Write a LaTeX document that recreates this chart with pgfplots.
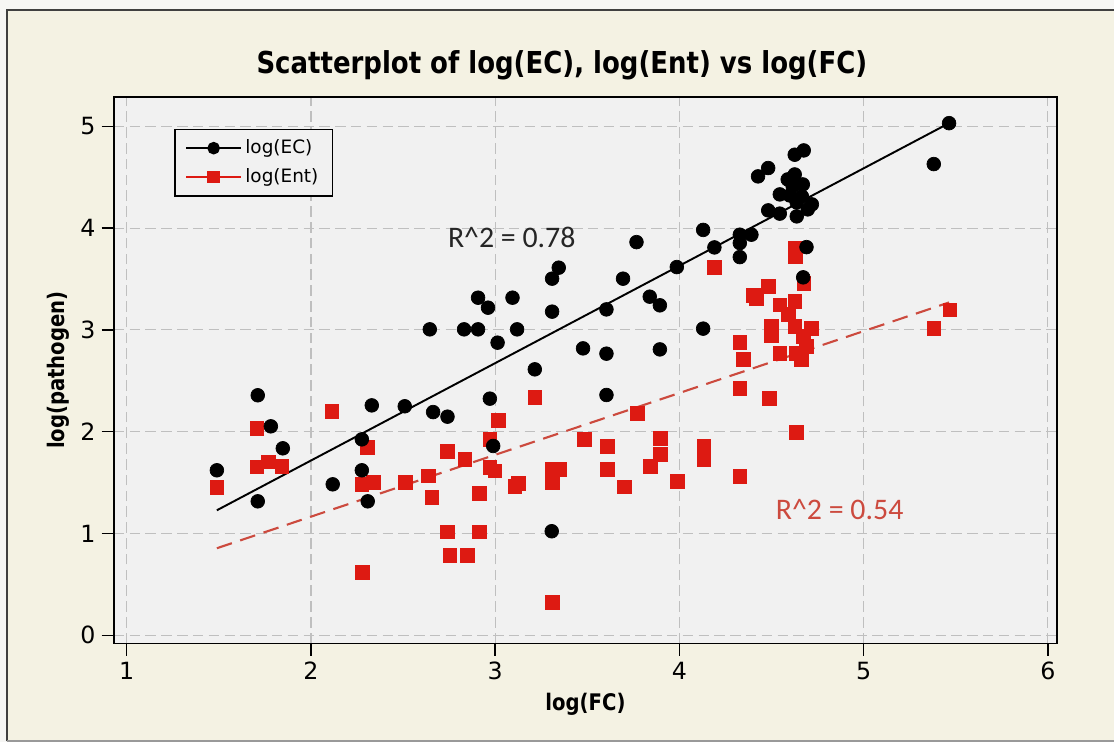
\documentclass[border=0pt]{standalone}
\usepackage{fontspec}
\setmainfont{DejaVu Sans}
\newfontfamily\titlefont[FakeStretch=0.86]{DejaVu Sans}
\newfontfamily\annfont{Carlito}
\usepackage{pgfplots}
\pgfplotsset{compat=1.18}
\definecolor{entred}{HTML}{DD1A12}
\definecolor{fitred}{HTML}{CC4A3E}
\definecolor{paper}{HTML}{F4F2E3}
\definecolor{outside}{HTML}{F6F6F4}
\definecolor{plotbg}{HTML}{F1F1F1}

\begin{document}
\begin{tikzpicture}
% scanned page background and frame (1px = 0.02cm)
\fill[outside] (-2.28,-1.98) rectangle (20.02,12.88);
\fill[paper] (-2.14,-1.96) rectangle (20.02,12.68);
\draw[black!75, line width=1.2pt] (-2.14,-1.96) -- (-2.14,12.68) -- (20.02,12.68);
\draw[black!40, line width=1pt] (-2.14,-1.96) -- (20.02,-1.96);

\begin{axis}[
    scale only axis,
    width=18.88cm,
    height=10.94cm,
    xmin=0.93, xmax=6.05,
    ymin=-0.08, ymax=5.29,
    xtick={1,2,3,4,5,6},
    ytick={0,1,2,3,4,5},
    xtick pos=bottom,
    ytick pos=left,
    tick align=outside,
    major tick length=7pt,
    tick style={black, line width=0.8pt},
    axis line style={black, line width=1pt},
    axis background/.style={fill=plotbg},
    grid=major,
    grid style={black!25, dash pattern=on 6pt off 3pt, line width=0.6pt},
    tick label style={font=\fontsize{13.5}{15}\selectfont},
    /pgf/number format/assume math mode=true,
    clip=false,
    legend style={at={(0.064,0.942)}, anchor=north west, draw=black,
        line width=0.8pt, fill=plotbg, font=\fontsize{10.5}{12}\selectfont,
        row sep=3pt, inner xsep=6pt, inner ysep=4pt},
    legend cell align=left,
    legend image code/.code={\draw[mark repeat=2, mark phase=2]
        plot coordinates {(0cm,0cm) (0.55cm,0cm) (1.1cm,0cm)};},
]
\addlegendimage{black, line width=0.8pt, mark=*, mark size=3.2pt}
\addlegendentry{log(EC)}
\addlegendimage{entred, line width=0.8pt, mark=square*, mark size=3.2pt}
\addlegendentry{log(Ent)}

% fitted lines
\addplot[forget plot, black, line width=1.1pt] coordinates {(1.489,1.228) (5.464,5.032)};
\addplot[forget plot, fitred, line width=1.2pt, dash pattern=on 9pt off 5pt] coordinates {(1.489,0.855) (5.464,3.27)};

% log(Ent)
\addplot[forget plot, only marks, mark=square*, mark size=3.9pt, entred] coordinates {
(1.489,1.451)(1.706,2.030)(1.706,1.654)(1.769,1.703)(1.841,1.663)(2.113,2.203)
(2.307,1.844)(2.276,1.483)(2.339,1.500)(2.280,0.616)(2.511,1.500)(2.638,1.565)
(2.656,1.353)(2.739,1.810)(2.835,1.729)(2.913,1.395)(2.739,1.015)(2.913,1.015)
(2.754,0.786)(2.848,0.786)(2.971,1.925)(3.016,2.115)(2.971,1.647)(2.998,1.614)
(3.215,2.341)(3.106,1.461)(3.124,1.493)(3.311,1.631)(3.351,1.631)(3.311,1.500)
(3.311,0.321)(3.483,1.925)(3.608,1.854)(3.608,1.631)(3.700,1.457)(3.770,2.178)
(3.897,1.932)(3.897,1.778)(3.843,1.663)(3.990,1.510)(4.132,1.860)(4.132,1.729)
(4.328,2.423)(4.328,1.559)(4.188,3.618)(4.328,2.875)(4.346,2.711)(4.630,3.805)
(4.630,3.723)(4.400,3.337)(4.482,3.428)(4.419,3.313)(4.675,3.461)(4.545,3.248)
(4.626,3.281)(4.590,3.150)(4.500,3.035)(4.500,2.944)(4.626,3.035)(4.717,3.018)
(4.672,2.937)(4.545,2.773)(4.636,2.773)(4.690,2.839)(4.663,2.708)(5.468,3.199)
(5.381,3.019)(4.487,2.328)(4.636,1.991)
};

% log(EC)
\addplot[forget plot, only marks, mark=*, mark size=3.9pt, black] coordinates {
(1.489,1.621)(1.711,2.358)(1.711,1.316)(1.782,2.053)(1.847,1.837)(2.118,1.483)
(2.276,1.925)(2.276,1.621)(2.308,1.316)(2.330,2.259)(2.509,2.250)(2.663,2.193)
(2.741,2.148)(2.645,3.006)(2.831,3.006)(2.907,3.317)(2.907,3.006)(2.961,3.219)
(3.013,2.875)(3.094,3.317)(3.119,3.006)(2.971,2.325)(3.215,2.613)(3.309,3.504)
(3.345,3.612)(3.309,3.180)(2.989,1.860)(3.307,1.022)(3.477,2.819)(3.604,2.767)
(3.604,3.202)(3.604,2.361)(3.694,3.504)(3.767,3.863)(3.839,3.327)(3.894,3.242)
(3.894,2.809)(3.986,3.618)(4.129,3.983)(4.129,3.013)(4.190,3.811)(4.328,3.936)
(4.328,3.854)(4.391,3.936)(4.328,3.716)(4.427,4.509)(4.482,4.591)(4.626,4.722)
(4.675,4.764)(4.482,4.175)(4.545,4.143)(4.545,4.332)(4.588,4.479)(4.626,4.528)
(4.615,4.411)(4.670,4.430)(4.599,4.322)(4.637,4.253)(4.637,4.116)(4.697,4.185)
(4.719,4.234)(4.665,4.312)(4.690,3.814)(4.672,3.517)(5.464,5.032)(5.381,4.630)
};

% annotations, title and axis labels
\node[font=\annfont\fontsize{17}{19}\selectfont, black!85] at (axis cs:3.09,3.91) {R\^{}2 = 0.78};
\node[font=\annfont\fontsize{17}{19}\selectfont, fitred] at (axis cs:4.87,1.24) {R\^{}2 = 0.54};
\node[font=\titlefont\bfseries\fontsize{17.2}{20}\selectfont] at (rel axis cs:0.475,1.058) {Scatterplot of log(EC), log(Ent) vs log(FC)};
\node[font=\titlefont\bfseries\fontsize{13}{15}\selectfont] at (rel axis cs:0.50,-0.111) {log(FC)};
\node[font=\titlefont\bfseries\fontsize{13}{15}\selectfont, rotate=90] at (rel axis cs:-0.059,0.50) {log(pathogen)};
\end{axis}
\end{tikzpicture}
\end{document}
